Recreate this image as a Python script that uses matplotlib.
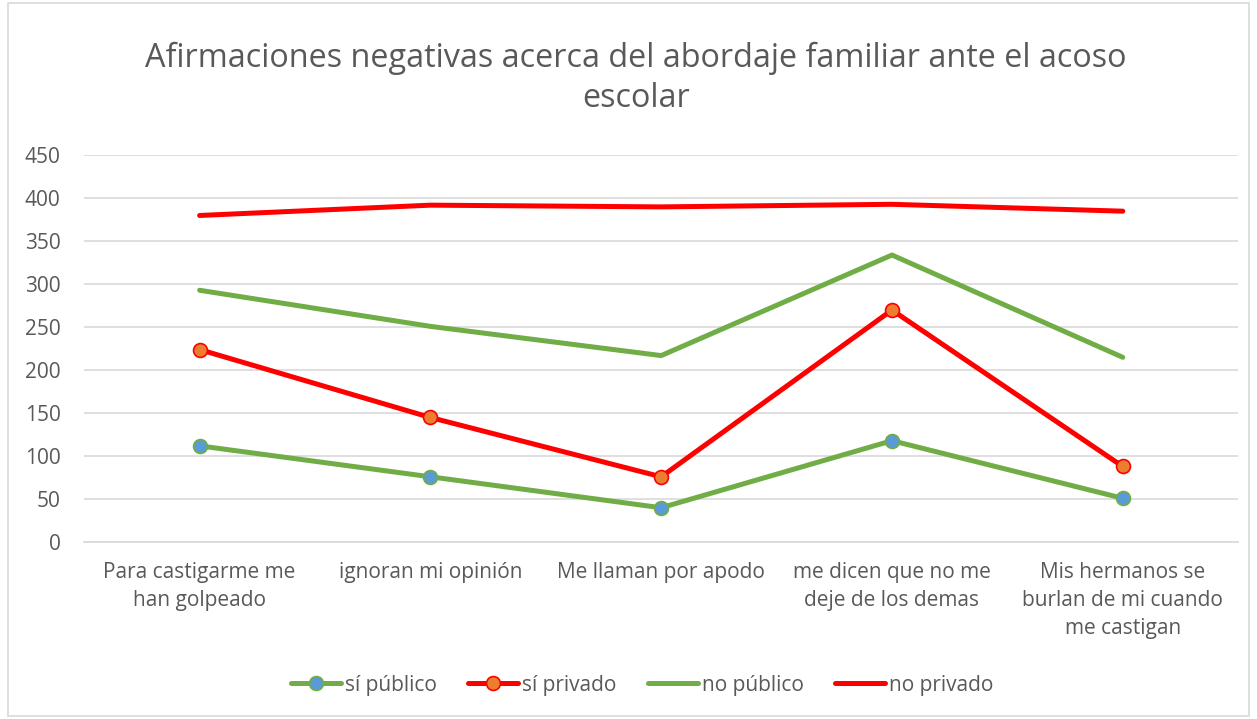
import matplotlib.pyplot as plt
from matplotlib.patches import Rectangle
import numpy as np

categories = [
    "Para castigarme me\nhan golpeado",
    "ignoran mi opinión",
    "Me llaman por apodo",
    "me dicen que no me\ndeje de los demas",
    "Mis hermanos se\nburlan de mi cuando\nme castigan",
]
si_publico = [112, 76, 40, 118, 51]
si_privado = [224, 145, 76, 270, 88]
no_publico = [293, 251, 217, 334, 215]
no_privado = [380, 392, 390, 393, 385]

plt.rcParams['font.family'] = ['Open Sans', 'DejaVu Sans']
text_color = '#595959'
green = '#70AD47'
red = '#FF0000'

fig = plt.figure(figsize=(12.57, 7.19), dpi=100)
ax = fig.add_axes([0.067, 0.246, 0.918, 0.538])

x = np.arange(len(categories))
ax.plot(x, si_publico, color=green, lw=3.6, marker='o', markersize=10,
        markerfacecolor='#5B9BD5', markeredgecolor=green, markeredgewidth=1.2,
        label='sí público', solid_capstyle='round', zorder=3)
ax.plot(x, si_privado, color=red, lw=3.6, marker='o', markersize=10,
        markerfacecolor='#ED7D31', markeredgecolor=red, markeredgewidth=1.2,
        label='sí privado', solid_capstyle='round', zorder=3)
ax.plot(x, no_publico, color=green, lw=3.6, label='no público',
        solid_capstyle='round', zorder=3)
ax.plot(x, no_privado, color=red, lw=3.6, label='no privado',
        solid_capstyle='round', zorder=3)

ax.set_xlim(-0.5, len(categories) - 0.5)
ax.set_ylim(0, 450)
ax.set_yticks(np.arange(0, 451, 50))
ax.set_xticks(x)
ax.set_xticklabels(categories, fontsize=15, color=text_color, va='top', linespacing=1.45)
ax.tick_params(axis='y', labelsize=15, labelcolor=text_color, length=0, pad=17)
ax.tick_params(axis='x', length=0, pad=14)
ax.grid(axis='y', color='#D9D9D9', lw=1.2)
ax.set_axisbelow(True)
for s in ax.spines.values():
    s.set_visible(False)
ax.spines['bottom'].set_visible(True)
ax.spines['bottom'].set_color('#D9D9D9')
ax.spines['bottom'].set_linewidth(1.2)

fig.text(0.506, 0.891, "Afirmaciones negativas acerca del abordaje familiar ante el acoso\nescolar",
         ha='center', va='center', fontsize=23.3, color=text_color, linespacing=1.3)

leg = fig.legend(loc='center', bbox_to_anchor=(0.511, 0.047), ncol=4, frameon=False,
                 fontsize=15, handlelength=2.4, columnspacing=1.5, handletextpad=0.2)
for t in leg.get_texts():
    t.set_color(text_color)

fig.patches.append(Rectangle((0.006, 0.004), 0.988, 0.992, transform=fig.transFigure,
                             fill=False, edgecolor='#D9D9D9', lw=1.2))

fig.savefig('out.png', dpi=100)
